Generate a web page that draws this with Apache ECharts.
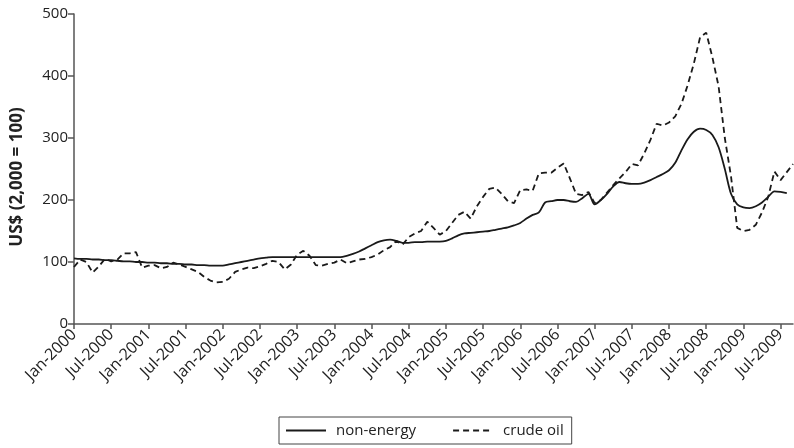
<!DOCTYPE html>
<html>
<head>
<meta charset="utf-8">
<script src="https://cdn.jsdelivr.net/npm/echarts@6/dist/echarts.min.js"></script>
<style>html,body{margin:0;padding:0;background:#fff;}#c{width:794px;height:448px;}</style>
</head>
<body>
<div id="c"></div>
<script>
const monthNames = ['Jan','Feb','Mar','Apr','May','Jun','Jul','Aug','Sep','Oct','Nov','Dec'];
const years = [2000,2001,2002,2003,2004,2005,2006,2007,2008,2009];
const categories = [];
years.forEach(y => monthNames.forEach(m => categories.push(m + '-' + y)));
categories.length = 117; // Jan-2000 .. Sep-2009

const nonEnergy = [
 106,105,105,104,104,103,103,102,101,101,100,100,
 99,99,98,98,97,97,96,96,95,95,94,94,
 94,96,98,100,102,104,106,107,108,108,108,108,
 108,108,108,108,108,108,108,108,110,113,117,122,
 127,132,135,136,134,131,131,132,132,133,133,133,
 134,138,143,146,147,148,149,150,152,154,156,159,
 163,170,176,180,196,198,200,200,198,197,203,210,
 193,200,210,222,229,227,226,226,228,232,237,242,
 248,260,280,298,310,315,313,305,285,250,210,193,
 188,187,190,196,205,214,213,211,null
];
const crudeOil = [
 92,104,100,83,93,105,101,104,114,114,116,91,
 94,95,90,92,99,96,92,88,84,76,70,67,
 68,73,84,88,91,90,93,97,102,100,88,96,
 112,118,110,95,94,97,99,104,98,101,104,105,
 108,112,119,124,134,128,140,146,150,165,155,144,
 150,163,176,181,170,190,205,218,220,210,198,195,
 216,217,215,243,244,244,252,259,235,210,208,213,
 195,200,212,224,235,245,258,256,275,297,323,320,
 325,335,355,385,420,462,470,430,383,300,238,155,
 150,152,160,180,205,246,232,245,258
];
const seriesNames = ['non-energy','crude oil'];
const yAxisName = 'US$ (2,000 = 100)';

const chart = echarts.init(document.getElementById('c'), null, {renderer:'canvas'});
const font = '"Open Sans", Lato, sans-serif';
chart.setOption({
  animation:false,
  backgroundColor:'#fff',
  grid:{left:74,right:1,top:14,bottom:124,containLabel:false},
  legend:{
    top:417,left:279,
    data:seriesNames,
    itemWidth:40,itemHeight:10,itemGap:36,
    itemStyle:{opacity:0},
    borderColor:'#444',borderWidth:1,padding:[6,8,6,6],
    textStyle:{fontFamily:font,fontSize:15,color:'#222',padding:[0,0,0,5]}
  },
  xAxis:{
    type:'category',boundaryGap:false,data:categories,
    axisLine:{lineStyle:{color:'#555',width:1.5}},
    axisTick:{interval:5,length:5,lineStyle:{color:'#555',width:1.5}},
    axisLabel:{interval:5,rotate:45,fontFamily:font,fontSize:16,color:'#222',margin:8},
    splitLine:{show:false}
  },
  yAxis:{
    type:'value',min:0,max:500,interval:100,
    name:yAxisName,nameLocation:'middle',nameGap:48,
    nameTextStyle:{fontFamily:font,fontSize:17,fontWeight:'bold',color:'#222',padding:[0,16,0,0]},
    axisLine:{show:true,lineStyle:{color:'#555',width:1.5}},
    axisTick:{show:true,length:6,lineStyle:{color:'#555',width:1.5}},
    axisLabel:{fontFamily:font,fontSize:15,color:'#222',margin:6},
    splitLine:{show:false}
  },
  series:[
    {name:seriesNames[0],type:'line',data:nonEnergy,showSymbol:false,symbol:'none',smooth:0.3,
     lineStyle:{color:'#1a1a1a',width:1.8},itemStyle:{color:'#1a1a1a'}},
    {name:seriesNames[1],type:'line',data:crudeOil,showSymbol:false,symbol:'none',
     lineStyle:{color:'#1a1a1a',width:1.8,type:[6,4]},itemStyle:{color:'#1a1a1a'}}
  ]
});
</script>
</body>
</html>
